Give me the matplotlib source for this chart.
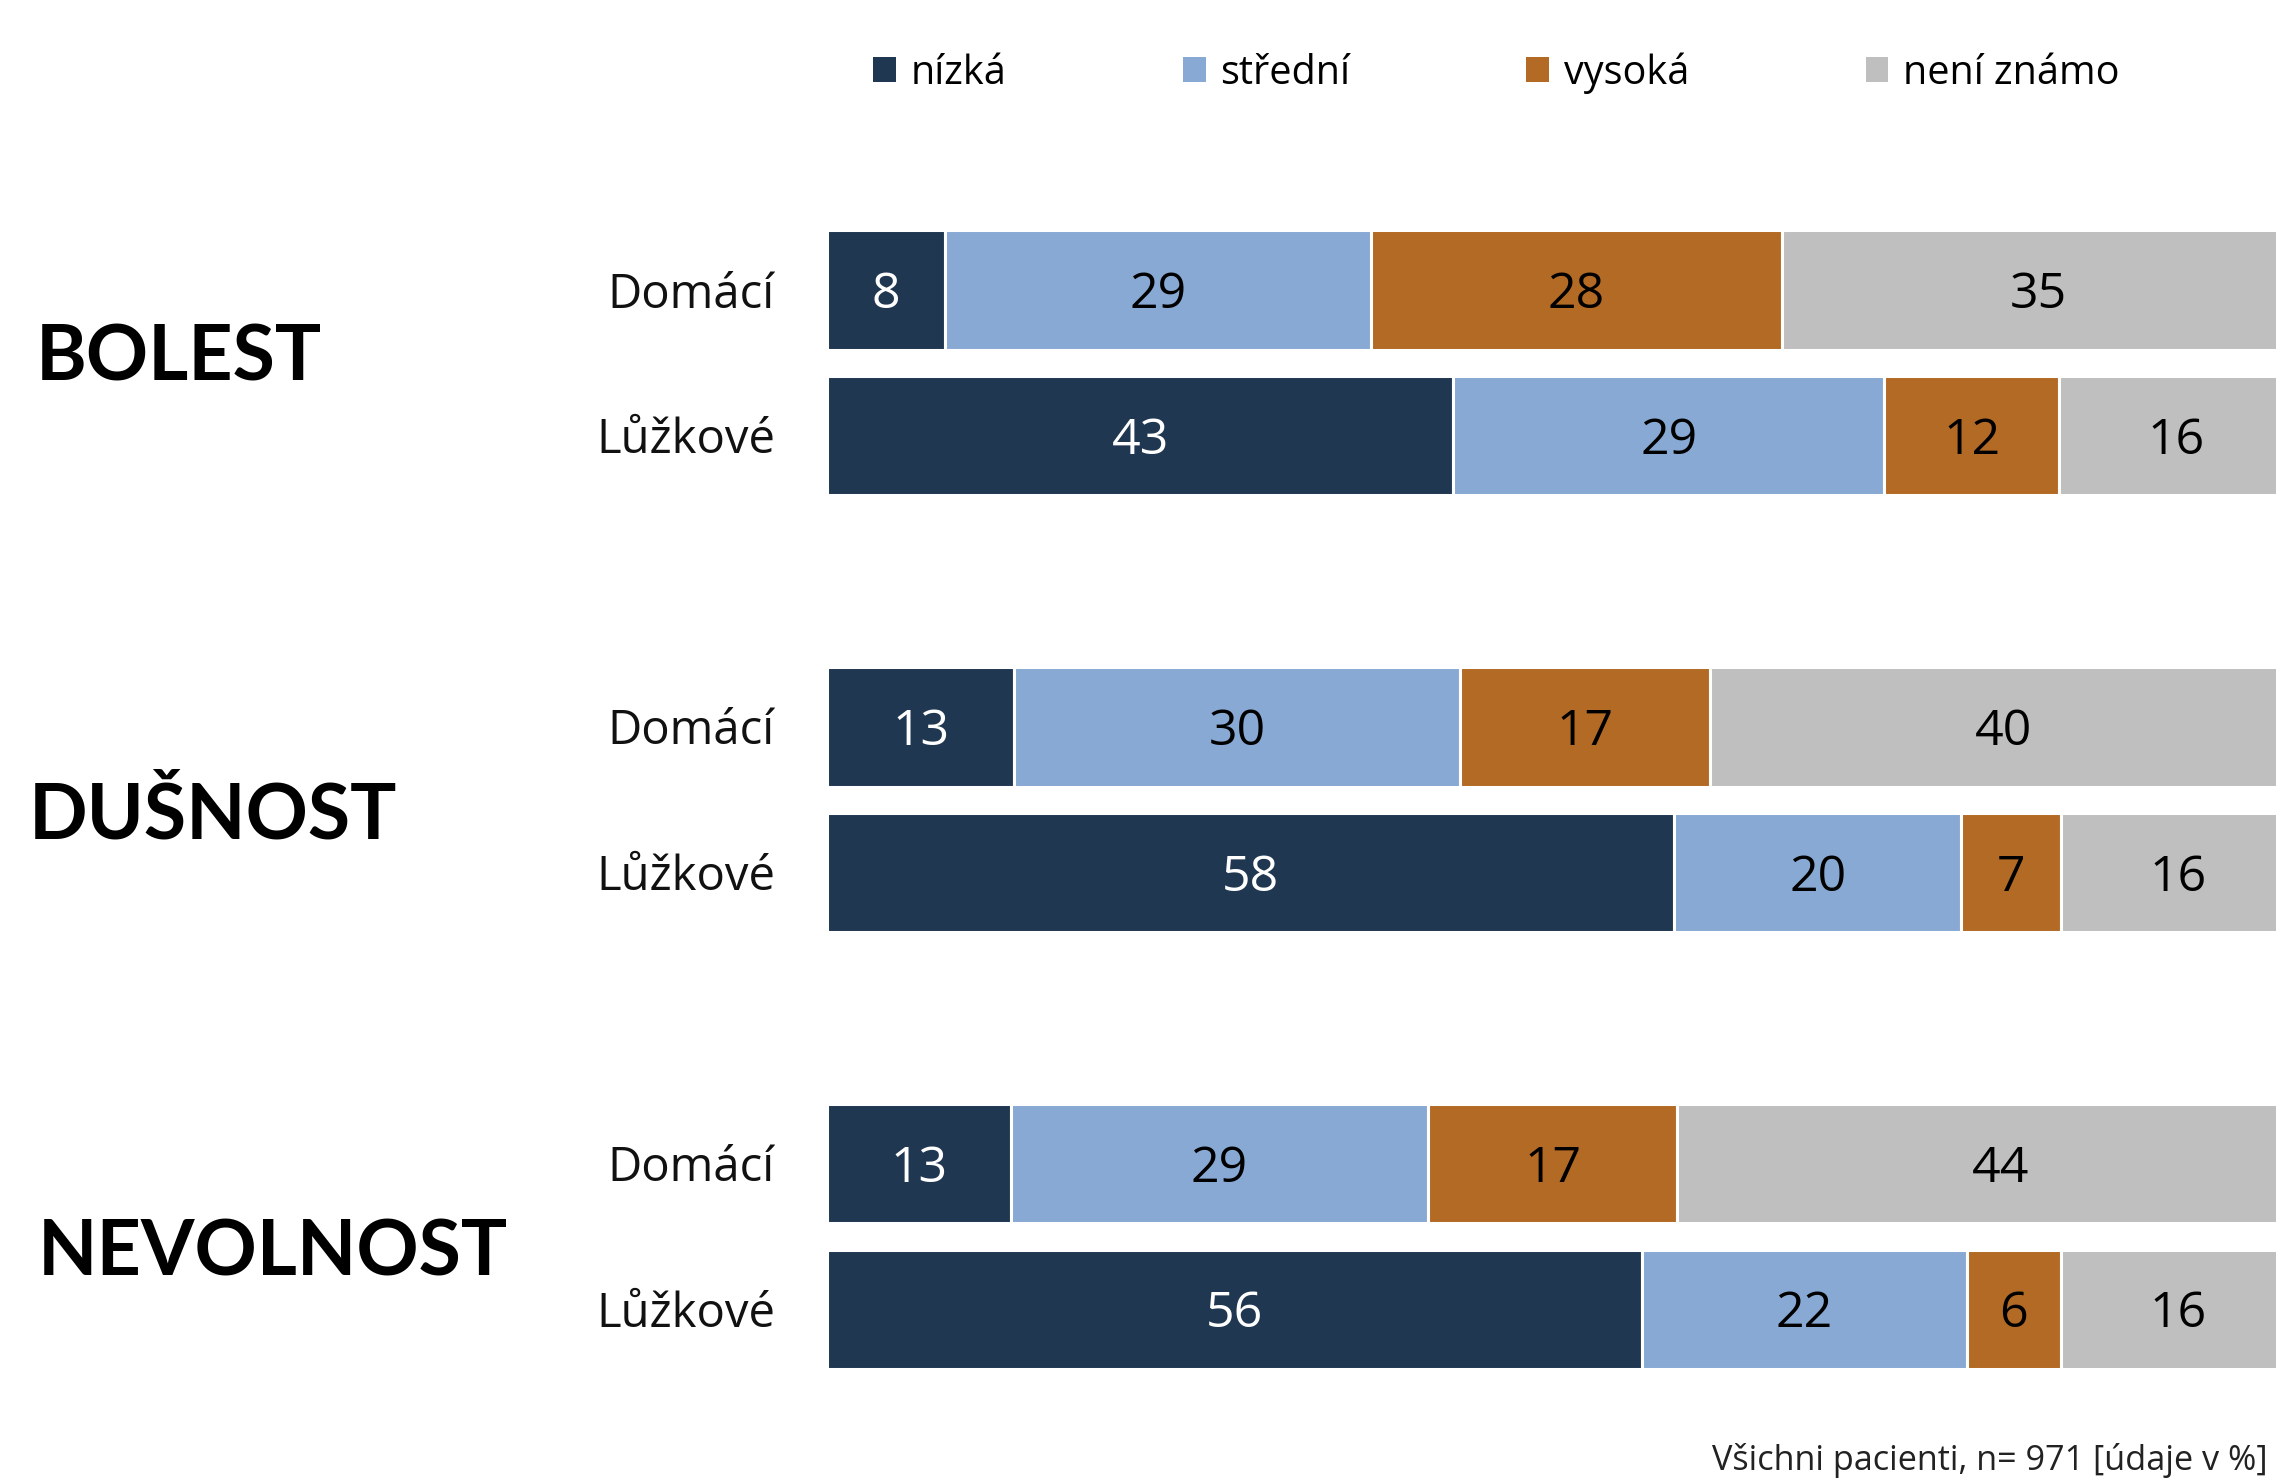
import matplotlib
matplotlib.use('Agg')
import matplotlib.pyplot as plt
from matplotlib.transforms import blended_transform_factory

# ---------------- data ----------------
categories = ['nízká', 'střední', 'vysoká', 'není známo']
groups = ['BOLEST', 'DUŠNOST', 'NEVOLNOST']
row_names = ['Domácí', 'Lůžkové']

# segment widths (%) in order: BOLEST Domácí, BOLEST Lůžkové, DUŠNOST Domácí,
# DUŠNOST Lůžkové, NEVOLNOST Domácí, NEVOLNOST Lůžkové
nizka = [8.0, 42.6, 12.7, 57.7, 12.5, 55.5]
stredni = [29.0, 29.4, 30.4, 19.5, 28.4, 22.1]
vysoka = [28.0, 11.9, 17.0, 6.8, 17.0, 6.4]
neni_znamo = [35.0, 16.0, 40.0, 16.0, 44.0, 16.0]

# printed value labels
nizka_lbl = [8, 43, 13, 58, 13, 56]
stredni_lbl = [29, 29, 30, 20, 29, 22]
vysoka_lbl = [28, 12, 17, 7, 17, 6]
neni_znamo_lbl = [35, 16, 40, 16, 44, 16]

footnote = 'Všichni pacienti, n= 971 [údaje v %]'

colors = ['#203752', '#88A9D3', '#B36A24', '#BFBFBF']
label_colors = ['white', 'black', 'black', 'black']

series = [nizka, stredni, vysoka, neni_znamo]
series_lbl = [nizka_lbl, stredni_lbl, vysoka_lbl, neni_znamo_lbl]

# ---------------- figure ----------------
W, H = 2276, 1480
fig = plt.figure(figsize=(W / 100, H / 100), dpi=100)
ax_left = 827.4 / W
ax_width = 1468 / W
ax = fig.add_axes([ax_left, 0, ax_width, 1])
ax.set_xlim(0, 100)
ax.set_ylim(8.173, -1.992)
ax.axis('off')

num_font = 'Open Sans'

ys = [g * 3 + r for g in range(len(groups)) for r in range(len(row_names))]
lefts = [0.0] * len(ys)
containers = []
for ci, (vals, lbls) in enumerate(zip(series, series_lbl)):
    bc = ax.barh(ys, vals, left=lefts, height=0.82, color=colors[ci],
                 edgecolor='white', linewidth=2.2, label=categories[ci])
    containers.append(bc)
    for y, l, v, t in zip(ys, lefts, vals, lbls):
        ax.text(l + v / 2, y + 0.125, str(t), ha='center', va='baseline',
                color=label_colors[ci], fontsize=36, family=num_font)
    lefts = [l + v for l, v in zip(lefts, vals)]

# row labels
tr = blended_transform_factory(fig.transFigure, ax.transData)
for y, name in zip(ys, row_names * len(groups)):
    fig.text(775 / W, y + 0.12, name, transform=tr, ha='right', va='baseline',
             fontsize=34, family=num_font, color='#111111')

# group titles
title_x = [36, 29, 38]
title_offsets = [0.62, 3.77, 6.77]
for g, name in enumerate(groups):
    fig.text(title_x[g] / W, title_offsets[g], name, transform=tr, ha='left',
             va='baseline', fontsize=55.5, family='Lato', fontweight='bold',
             color='black')

# legend
leg = fig.legend(handles=containers, labels=categories, ncol=4,
                 loc='center left', bbox_to_anchor=(873 / W, 1 - 73 / H),
                 frameon=False, handlelength=0.58,
                 handleheight=0.58, handletextpad=0.37, columnspacing=4.45,
                 borderaxespad=0, borderpad=0,
                 prop={'family': num_font, 'size': 28.5})
for h in leg.legend_handles:
    h.set_edgecolor('none')

fig.text(2268 / W, 1 - 1470 / H, footnote, ha='right', va='baseline',
         fontsize=24.7, family=num_font, color='#222222')

fig.savefig('out.png', dpi=100, facecolor='white')
